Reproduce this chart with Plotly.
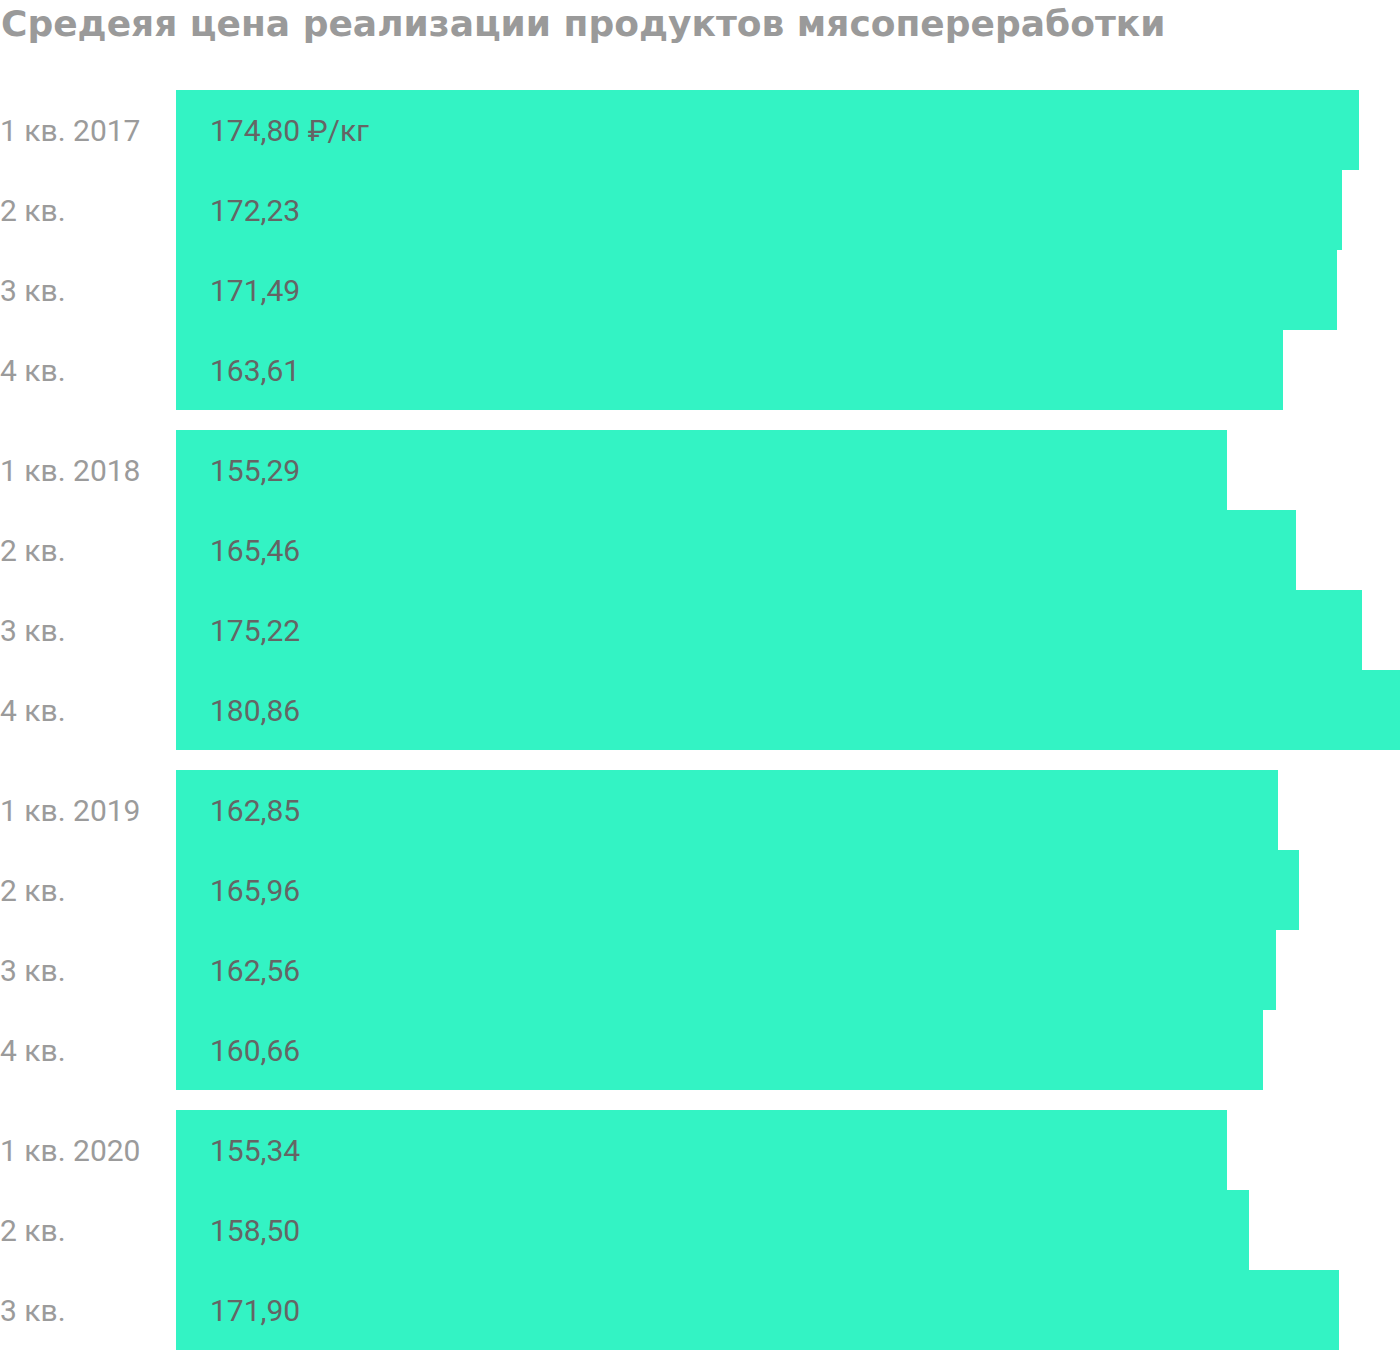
import plotly.graph_objects as go

title = "Средеяя цена реализации продуктов мясопереработки"
labels = ["1 кв. 2017", "2 кв.", "3 кв.", "4 кв.",
          "1 кв. 2018", "2 кв.", "3 кв.", "4 кв.",
          "1 кв. 2019", "2 кв.", "3 кв.", "4 кв.",
          "1 кв. 2020", "2 кв.", "3 кв."]
values = [174.80, 172.23, 171.49, 163.61,
          155.29, 165.46, 175.22, 180.86,
          162.85, 165.96, 162.56, 160.66,
          155.34, 158.50, 171.90]
value_text = ["174,80 ₽/кг", "172,23", "171,49", "163,61",
              "155,29", "165,46", "175,22", "180,86",
              "162,85", "165,96", "162,56", "160,66",
              "155,34", "158,50", "171,90"]
groups = [0, 0, 0, 0, 1, 1, 1, 1, 2, 2, 2, 2, 3, 3, 3]

GAP = 0.25
ypos = [i + g * GAP for i, g in enumerate(groups)]
total = len(values) + GAP * max(groups)

W, H = 1400, 1352
L, T, B = 176, 90, 2
plot_w = W - L
plot_h = H - T - B

fig = go.Figure()
fig.add_trace(go.Bar(
    x=values, y=ypos, orientation="h", width=1.0,
    marker=dict(color="#33F3C4", line=dict(width=0)),
    hoverinfo="skip",
))

annotations = []
for yv, lab, vt in zip(ypos, labels, value_text):
    annotations.append(dict(
        x=(-L - 2) / plot_w, xref="paper", y=yv, yref="y",
        text=lab, showarrow=False, xanchor="left", yanchor="middle",
        font=dict(family="Roboto", size=30, color="#9b9b9b"),
    ))
    annotations.append(dict(
        x=32 / plot_w, xref="paper", y=yv, yref="y",
        text=vt, showarrow=False, xanchor="left", yanchor="middle",
        font=dict(family="Roboto", size=30, color="#656565"),
    ))
annotations.append(dict(
    x=(-L - 1) / plot_w, xref="paper", y=1 + (T - 24) / plot_h, yref="paper",
    text="<b>" + title + "</b>", showarrow=False, xanchor="left", yanchor="middle",
    font=dict(family="DejaVu Sans", size=36, color="#9a9a9a"),
))

fig.update_layout(
    width=W, height=H,
    margin=dict(l=L, r=0, t=T, b=B, pad=0),
    paper_bgcolor="white", plot_bgcolor="white",
    showlegend=False,
    bargap=0,
    xaxis=dict(range=[0, max(values)], visible=False, fixedrange=True),
    yaxis=dict(range=[total - 0.5, -0.5], visible=False, fixedrange=True),
    annotations=annotations,
)

fig.write_html("out.html")
